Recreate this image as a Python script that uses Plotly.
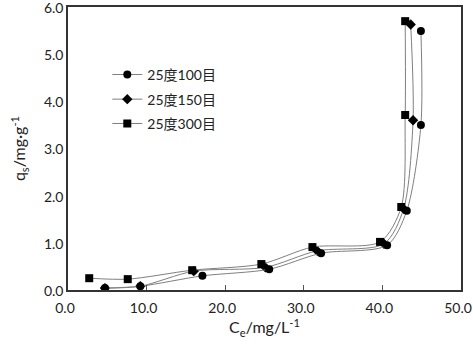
import plotly.graph_objects as go

names = ["25度100目", "25度150目", "25度300目"]
x100 = [4.7, 9.2, 17.1, 25.6, 32.2, 40.6, 43.1, 44.9, 44.9]
y100 = [0.04, 0.08, 0.30, 0.44, 0.78, 0.95, 1.68, 3.50, 5.49]
x150 = [4.7, 9.2, 16.0, 25.1, 31.7, 40.2, 42.7, 43.9, 43.6]
y150 = [0.04, 0.08, 0.40, 0.48, 0.83, 0.98, 1.72, 3.60, 5.63]
x300 = [2.7, 7.6, 15.8, 24.6, 31.1, 39.7, 42.4, 42.9, 42.9]
y300 = [0.25, 0.23, 0.42, 0.55, 0.91, 1.02, 1.76, 3.71, 5.70]
xticks = [0, 10, 20, 30, 40, 50]
yticks = [0, 1, 2, 3, 4, 5, 6]

FONT = "Lato, 'Noto Sans CJK SC', sans-serif"
fig = go.Figure()
series = [(names[1], x150, y150, "diamond", 8, "legend2"),
          (names[2], x300, y300, "square", 8, "legend3"),
          (names[0], x100, y100, "circle", 8, "legend")]
for nm, xs, ys, sym, sz, lg in series:
    fig.add_trace(go.Scatter(
        x=xs, y=ys, name=nm, mode="lines+markers", legend=lg,
        line=dict(color="#7f7f7f", width=1, shape="spline", smoothing=0.8),
        marker=dict(symbol=sym, size=sz, color="black"),
    ))

def leg(yc):
    return dict(x=0.1, y=yc, xanchor="left", yanchor="middle",
                bgcolor="rgba(0,0,0,0)", font=dict(size=14, color="#222"),
                itemwidth=30)

fig.update_layout(
    width=473, height=344,
    margin=dict(l=68, r=12, t=7, b=54, autoexpand=False),
    paper_bgcolor="white", plot_bgcolor="white",
    font=dict(family=FONT, size=14, color="#222"),
    showlegend=True,
    legend=leg(0.760), legend2=leg(0.673), legend3=leg(0.587),
    xaxis=dict(range=[-0.0001, 50.0001], tickvals=xticks,
               ticktext=[f"{v:.1f}" for v in xticks],
               ticks="inside", ticklen=5, tickcolor="#555",
               ticklabeloverflow="allow", ticklabelshift=-3, ticklabelstandoff=4,
               showline=True, linecolor="#333", linewidth=1.5, mirror=True,
               showgrid=False, zeroline=False, automargin=False,
               title=dict(text="C<sub>e</sub>/mg/L<sup>-1</sup>", standoff=0,
                          font=dict(size=16))),
    yaxis=dict(range=[-0.00001, 6.00001], tickvals=yticks,
               ticktext=[f"{v:.1f}" for v in yticks],
               ticks="", ticklabeloverflow="allow", ticklabelshift=1,
               showline=True, linecolor="#333", linewidth=1.5, mirror=True,
               showgrid=False, zeroline=False, automargin=False,
               title=dict(text="q<sub>s</sub>/mg·g<sup>-1</sup>", standoff=14,
                          font=dict(size=16))),
)
fig.write_html("out.html", config={"displayModeBar": False},
               post_script="document.body.style.margin='0';document.body.style.overflow='hidden';")
